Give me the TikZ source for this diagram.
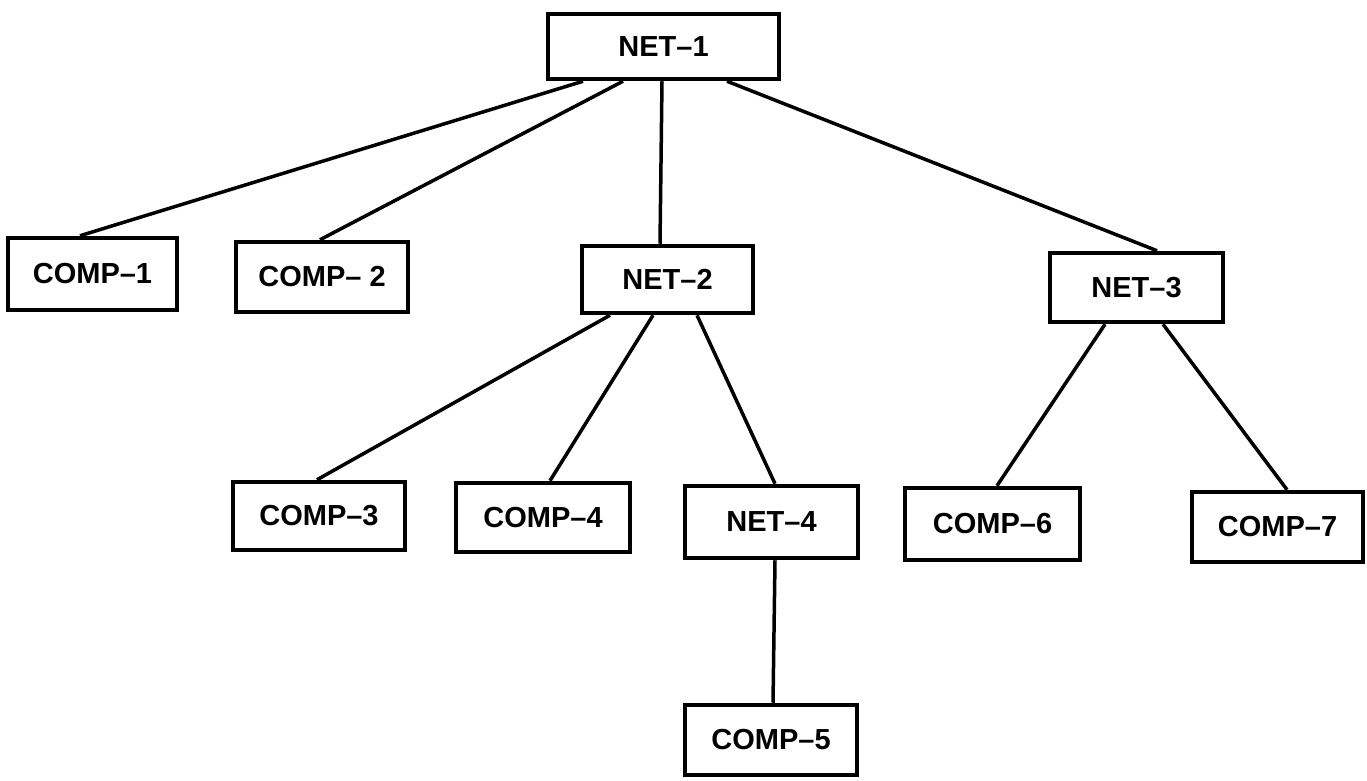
\documentclass[tikz,border=0pt]{standalone}
\usepackage{fontspec}
\setmainfont{Liberation Sans}
\begin{document}
\begin{tikzpicture}[x=1pt,y=1pt,
  box/.style={draw=black, line width=4.5pt, fill=white, inner sep=0pt,
    font=\fontsize{29}{32}\selectfont\bfseries},
  link/.style={draw=black, line width=3.5pt}]
\useasboundingbox (0,0) rectangle (1367,780);
% boxes
\node[box, minimum width=231, minimum height=65] (net1) at (663.5,733.5) {NET–1};
\node[box, minimum width=169, minimum height=72] (comp1) at (92.5,506) {COMP–1};
\node[box, minimum width=172, minimum height=70] (comp2) at (322,503) {COMP– 2};
\node[box, minimum width=171, minimum height=67] (net2) at (667.5,500.5) {NET–2};
\node[box, minimum width=173, minimum height=69] (net3) at (1136.5,492.5) {NET–3};
\node[box, minimum width=172, minimum height=68] (comp3) at (319,264) {COMP–3};
\node[box, minimum width=174, minimum height=69] (comp4) at (543,262.5) {COMP–4};
\node[box, minimum width=173, minimum height=72] (net4) at (771.5,258) {NET–4};
\node[box, minimum width=175, minimum height=72] (comp6) at (992.5,256) {COMP–6};
\node[box, minimum width=171, minimum height=70] (comp7) at (1277.5,253) {COMP–7};
\node[box, minimum width=172, minimum height=70] (comp5) at (771,40) {COMP–5};
% connectors
\draw[link] ([xshift=-80.5]net1.south) -- ([xshift=-12.5]comp1.north);
\draw[link] ([xshift=-40.5]net1.south) -- ([xshift=-2]comp2.north);
\draw[link] ([xshift=-1.5]net1.south) -- ([xshift=-7.5]net2.north);
\draw[link] ([xshift=63.5]net1.south) -- ([xshift=20.5]net3.north);
\draw[link] ([xshift=-57.5]net2.south) -- ([xshift=-2]comp3.north);
\draw[link] ([xshift=-14.5]net2.south) -- ([xshift=7]comp4.north);
\draw[link] ([xshift=29.5]net2.south) -- ([xshift=3.5]net4.north);
\draw[link] ([xshift=3.5]net4.south) -- ([xshift=2]comp5.north);
\draw[link] ([xshift=-31.5]net3.south) -- ([xshift=4.5]comp6.north);
\draw[link] ([xshift=26.5]net3.south) -- ([xshift=9.5]comp7.north);
\end{tikzpicture}
\end{document}
